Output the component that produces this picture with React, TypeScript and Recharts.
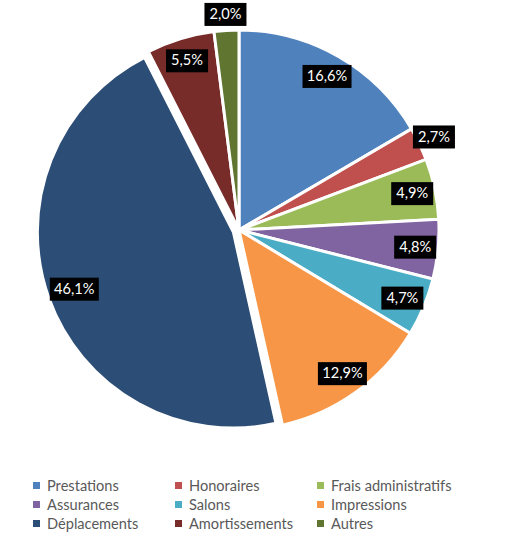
import { Cell, Pie, PieChart } from "recharts"

const categories = [
  "Prestations",
  "Honoraires",
  "Frais administratifs",
  "Assurances",
  "Salons",
  "Impressions",
  "Déplacements",
  "Amortissements",
  "Autres",
]
const shares = [16.6, 2.7, 4.9, 4.8, 4.7, 12.9, 46.1, 5.5, 2.0]
const colors = [
  "#4F81BD",
  "#C0504D",
  "#9BBB59",
  "#8064A2",
  "#4BACC6",
  "#F79646",
  "#2C4D75",
  "#772C2A",
  "#5F7530",
]
const exploded = "Déplacements"

const data = categories.map((name, i) => ({ name, value: shares[i], color: colors[i] }))

const RADIAN = Math.PI / 180
const FONT = "Lato, 'Open Sans', sans-serif"

function makeLabel(onlyExploded: boolean) {
  return (props: any) => {
    const { cx, cy, midAngle, outerRadius, payload } = props
    const isExploded = payload.name === exploded
    if (isExploded !== onlyExploded) return null
    const small = payload.value < 3
    const r = small ? outerRadius + 16 : isExploded ? outerRadius - 27 : outerRadius - 23
    const x = cx + r * Math.cos(-midAngle * RADIAN)
    const y = cy + r * Math.sin(-midAngle * RADIAN)
    const text = payload.value.toFixed(1).replace(".", ",") + "%"
    const w = text.length * 7 + 14
    const h = 23
    return (
      <g>
        <rect x={x - w / 2} y={y - h / 2} width={w} height={h} fill="#000" />
        <text x={x} y={y + 1} fill="#fff" fontSize={14.6} fontFamily={FONT} textAnchor="middle" dominantBaseline="middle">
          {text}
        </text>
      </g>
    )
  }
}

export default function App() {
  const cx = 239
  const cy = 230
  // Déplacements is pulled out a little, in the direction of its middle angle
  const off = 6
  const startAngle = 90
  const total = shares.reduce((a, b) => a + b, 0)
  let before = 0
  for (let i = 0; i < categories.length; i++) {
    if (categories[i] === exploded) break
    before += shares[i]
  }
  const mid = startAngle - ((before + shares[categories.indexOf(exploded)] / 2) / total) * 360
  const ex = cx + off * Math.cos(mid * RADIAN)
  const ey = cy - off * Math.sin(mid * RADIAN)

  return (
    <div style={{ position: "absolute", left: 0, top: 0, width: 505, height: 540, background: "#fff" }}>
      <PieChart width={505} height={460} margin={{ top: 0, right: 0, bottom: 0, left: 0 }}>
        <Pie
          data={data}
          dataKey="value"
          nameKey="name"
          cx={cx}
          cy={cy}
          outerRadius={200}
          startAngle={90}
          endAngle={-270}
          stroke="#fff"
          strokeWidth={3}
          labelLine={false}
          label={makeLabel(false)}
          isAnimationActive={false}
        >
          {data.map((d) => (
            <Cell key={d.name} fill={d.name === exploded ? "transparent" : d.color} stroke={d.name === exploded ? "none" : "#fff"} />
          ))}
        </Pie>
        <Pie
          data={data}
          dataKey="value"
          nameKey="name"
          cx={ex}
          cy={ey}
          outerRadius={196}
          startAngle={90}
          endAngle={-270}
          stroke="#fff"
          strokeWidth={3}
          labelLine={false}
          label={makeLabel(true)}
          isAnimationActive={false}
        >
          {data.map((d) => (
            <Cell key={d.name} fill={d.name === exploded ? d.color : "transparent"} stroke={d.name === exploded ? "#fff" : "none"} />
          ))}
        </Pie>
      </PieChart>
      <div
        style={{
          position: "absolute",
          left: 33,
          top: 476,
          display: "grid",
          gridTemplateColumns: "142px 142px 170px",
          rowGap: 1,
          fontFamily: FONT,
          fontSize: 14.6,
          color: "#595959",
        }}
      >
        {data.map((d) => (
          <div key={d.name} style={{ display: "flex", alignItems: "center", height: 18 }}>
            <span style={{ width: 7, height: 7, background: d.color, marginRight: 7, display: "inline-block" }} />
            {d.name}
          </div>
        ))}
      </div>
    </div>
  )
}
